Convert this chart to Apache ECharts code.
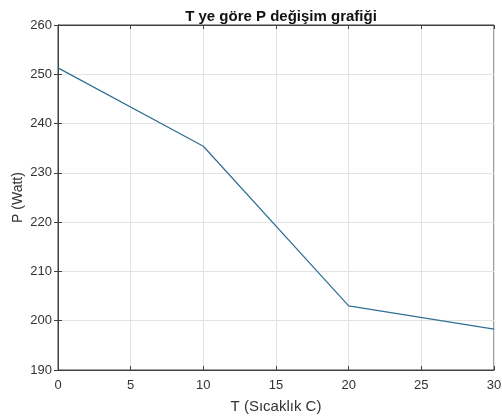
<!DOCTYPE html>
<html><head><meta charset="utf-8">
<script src="https://cdn.jsdelivr.net/npm/echarts@6/dist/echarts.min.js"></script>
<style>html,body{margin:0;padding:0;background:#fff}#c{width:502px;height:416px}</style>
</head><body><div id="c"></div>
<script>
const T = [0, 10, 20, 30];
const P = [251.3, 235.4, 203.0, 198.3];
const titleText = 'T ye göre P değişim grafiği';
const xName = 'T (Sıcaklık C)';
const yName = 'P (Watt)';

const font = 'Liberation Sans, Arial, sans-serif';
const axisCol = '#404040';
const chart = echarts.init(document.getElementById('c'));
const common = {
  axisLine: {show: true, lineStyle: {color: axisCol, width: 1}},
  axisTick: {show: true, inside: true, length: 4, lineStyle: {color: axisCol}},
  axisLabel: {color: '#333', fontFamily: font, fontSize: 13}
};
chart.setOption({
  animation: false,
  title: {text: titleText, left: 276, top: 4, textAlign: 'center',
    textStyle: {fontFamily: font, fontSize: 15, fontWeight: 'bold', color: '#111'}},
  grid: {left: 58, right: 8, top: 25, bottom: 46, show: true, borderColor: axisCol, borderWidth: 1,
    containLabel: false, outerBoundsMode: 'none'},
  xAxis: [
    Object.assign({}, common, {type: 'value', min: 0, max: 30, interval: 5, position: 'bottom',
      name: xName, nameLocation: 'middle', nameGap: 29, nameMoveOverlap: false,
      nameTextStyle: {fontFamily: font, fontSize: 15, color: '#333'},
      axisLabel: {color: '#333', fontFamily: font, fontSize: 13, margin: 9},
      splitLine: {show: true, lineStyle: {color: '#e3e3e3'}}}),
    Object.assign({}, common, {type: 'value', min: 0, max: 30, interval: 5, position: 'top',
      axisLabel: {show: false}, splitLine: {show: false}})
  ],
  yAxis: [
    Object.assign({}, common, {type: 'value', min: 190, max: 260, interval: 10, position: 'left',
      name: yName, nameLocation: 'middle', nameGap: 33, nameMoveOverlap: false,
      nameTextStyle: {fontFamily: font, fontSize: 14, color: '#333'},
      axisLabel: {color: '#333', fontFamily: font, fontSize: 13, margin: 6},
      splitLine: {show: true, lineStyle: {color: '#e3e3e3'}}}),
    Object.assign({}, common, {type: 'value', min: 190, max: 260, interval: 10, position: 'right',
      axisLabel: {show: false}, splitLine: {show: false}})
  ],
  series: [{
    type: 'line', data: T.map((t, i) => [t, P[i]]), showSymbol: false,
    lineStyle: {color: '#2e6f93', width: 1.2}
  }]
});
</script></body></html>
